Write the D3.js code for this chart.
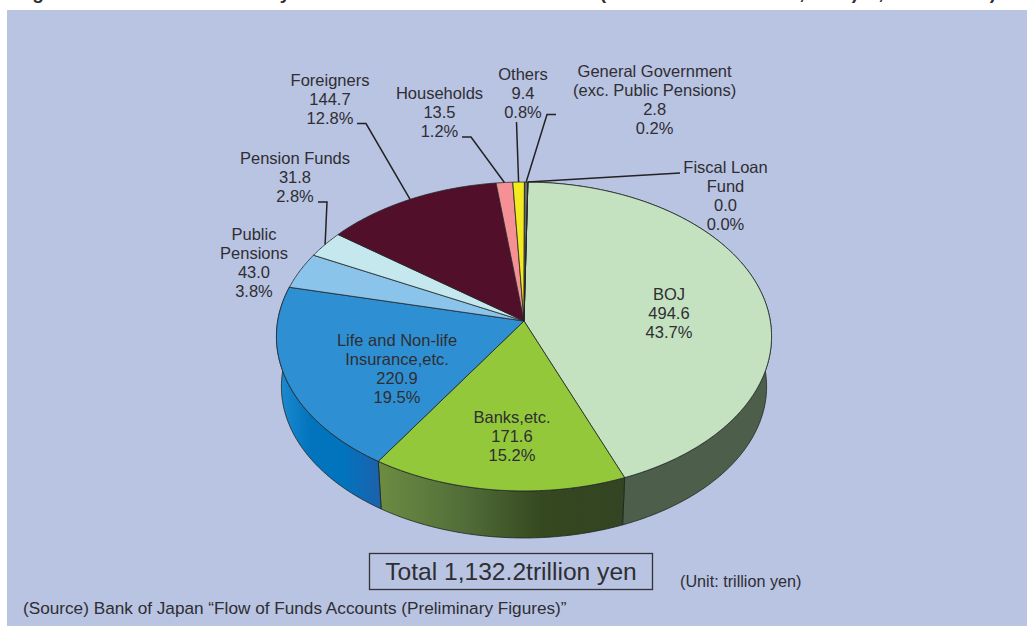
<!DOCTYPE html>
<html><head><meta charset="utf-8">
<script src="https://cdn.jsdelivr.net/npm/d3@7"></script>
<style>html,body{margin:0;padding:0;background:#fff}svg{display:block}text{font-family:"Liberation Sans",Arial,sans-serif;fill:#2e2e33}</style>
</head><body><svg id="c" width="1027" height="626"></svg>
<script>
const categories=["BOJ","Banks,etc.","Life and Non-life Insurance,etc.","Public Pensions","Pension Funds","Foreigners","Households","Others","General Government (exc. Public Pensions)","Fiscal Loan Fund"];
const values=[494.6,171.6,220.9,43.0,31.8,144.7,13.5,9.4,2.8,0.0];
const valueLabels=["494.6","171.6","220.9","43.0","31.8","144.7","13.5","9.4","2.8","0.0"];
const shares=["43.7%","15.2%","19.5%","3.8%","2.8%","12.8%","1.2%","0.8%","0.2%","0.0%"];
const nameLines=[["BOJ"],["Banks,etc."],["Life and Non-life","Insurance,etc."],["Public","Pensions"],["Pension Funds"],["Foreigners"],["Households"],["Others"],["General Government","(exc. Public Pensions)"],["Fiscal Loan","Fund"]];
const faceColors=["#c4e2c0","#92c83a","#2e90d2","#8ac4ea","#c5e8ee","#520f2a","#f59094","#f3ea1f","#666a64","#8a8a80"];
const wallStops=[[["#4d5f4b"],["#4d5f4b"]],[["#6c8c42"],["#536f3a"],["#35481f"],["#334423"]],[["#1f8dd2"],["#0273bd"],["#0273bd"],["#1b62ad"]]];
const titleGlyphs=[["g",38],["y",285],["(",603],[",",802],[")",855],[",",881],[")",993]];
const totalLabel="Total 1,132.2trillion yen", unitLabel="(Unit: trillion yen)";
const sourceLabel="(Source) Bank of Japan \u201cFlow of Funds Accounts (Preliminary Figures)\u201d";

const W=1027,H=626;
const svg=d3.select("#c");
svg.append("rect").attr("x",7).attr("y",10).attr("width",W-7).attr("height",H-10).attr("fill","#b9c3e2");
svg.selectAll("text.title").data(titleGlyphs).join("text").attr("class","title")
  .attr("x",d=>d[1]).attr("y",-1).attr("text-anchor","middle").attr("font-size",19).attr("font-weight","bold").text(d=>d[0]);

// perspective projection of the pie's disc
const cx=524,apexY=321,k=0.1003,a=246.3,b=152.9,ellCy=336.5,shrink=0.98,floorCy=386.6,rot=0.0175;
const topPt=t=>{const u=Math.sin(t),v=-Math.cos(t),w=1-k*v;return [cx+a*u/w,apexY+b*v/w];};
const botPt=t=>{const p=topPt(t);return [cx+shrink*(p[0]-cx),floorCy+shrink*(p[1]-ellCy)];};
const arcs=d3.pie().sort(null).value(d=>d).startAngle(rot).endAngle(2*Math.PI+rot)(values);
const samples=d=>{const n=Math.max(2,Math.ceil((d.endAngle-d.startAngle)/0.01));return d3.range(n+1).map(i=>d.startAngle+(d.endAngle-d.startAngle)*i/n);};
const line=d3.line();
const defs=svg.append("defs");
const g=svg.append("g");

// walls
const wallIdx=[0,1,2];
wallIdx.forEach(i=>{
  const d=arcs[i],ts=samples(d),pts=ts.map(botPt);
  const xs=ts.map(t=>topPt(t)[0]);
  let x0=d3.min(xs),x1=d3.max(xs);
  if(i===0){x0=624;x1=771;}
  const grad=defs.append("linearGradient").attr("id","w"+i).attr("gradientUnits","userSpaceOnUse")
    .attr("x1",x0).attr("x2",x1).attr("y1",0).attr("y2",0);
  const st=wallStops[i];
  st.forEach((c,j)=>grad.append("stop").attr("offset",j/(st.length-1)).attr("stop-color",c[0]));
  g.append("path").attr("d",line(ts.map(topPt).concat(pts.reverse()))+"Z").attr("fill",`url(#w${i})`).attr("stroke","#1f2420").attr("stroke-width",0.8).attr("stroke-linejoin","round");
});

// top faces
g.selectAll("path.face").data(arcs).join("path").attr("class","face")
  .attr("d",d=>line([[cx,apexY]].concat(samples(d).map(topPt)))+"Z")
  .attr("fill",(d,i)=>faceColors[i]).attr("stroke","#23262a").attr("stroke-width",0.8).attr("stroke-linejoin","round");

// leaders
const mid=d=>(d.startAngle+d.endAngle)/2;
const leaders=[[4,[[318,202],[327,202]]],[5,[[357,123.5],[366,123.5]]],[6,[[462,137],[471,137]]],[7,[[516.5,122]]],[8,[[556,114.5],[547,114.5]]],[9,[[680,173]]]];
svg.append("g").selectAll("path").data(leaders).join("path")
  .attr("d",d=>line(d[1].concat([topPt(mid(arcs[d[0]]))])))
  .attr("fill","none").attr("stroke","#222").attr("stroke-width",1.5);

// labels
const labelPos=[[669,294],[512,417],[397,340],[254,234],[295,158],[330,80],[439.5,93],[523,74],[654.6,71],[725.5,167]];
const fs=16.5,lh=19;
arcs.forEach((d,i)=>{
  const lines=nameLines[i].concat([valueLabels[i],shares[i]]);
  svg.append("g").selectAll("text").data(lines).join("text")
    .attr("x",labelPos[i][0]).attr("y",(l,j)=>labelPos[i][1]+j*lh).attr("dy","0.35em")
    .attr("text-anchor","middle").attr("font-size",fs).text(l=>l);
});
svg.append("rect").attr("x",369.5).attr("y",553.5).attr("width",283).attr("height",36).attr("fill","none").attr("stroke","#333").attr("stroke-width",1.3);
svg.append("text").attr("x",511).attr("y",571.5).attr("dy","0.35em").attr("text-anchor","middle").attr("font-size",24.6).text(totalLabel);
svg.append("text").attr("x",680).attr("y",581.5).attr("dy","0.35em").attr("font-size",16.2).text(unitLabel);
svg.append("text").attr("x",23).attr("y",608).attr("dy","0.35em").attr("font-size",17.2).text(sourceLabel);
</script></body></html>
